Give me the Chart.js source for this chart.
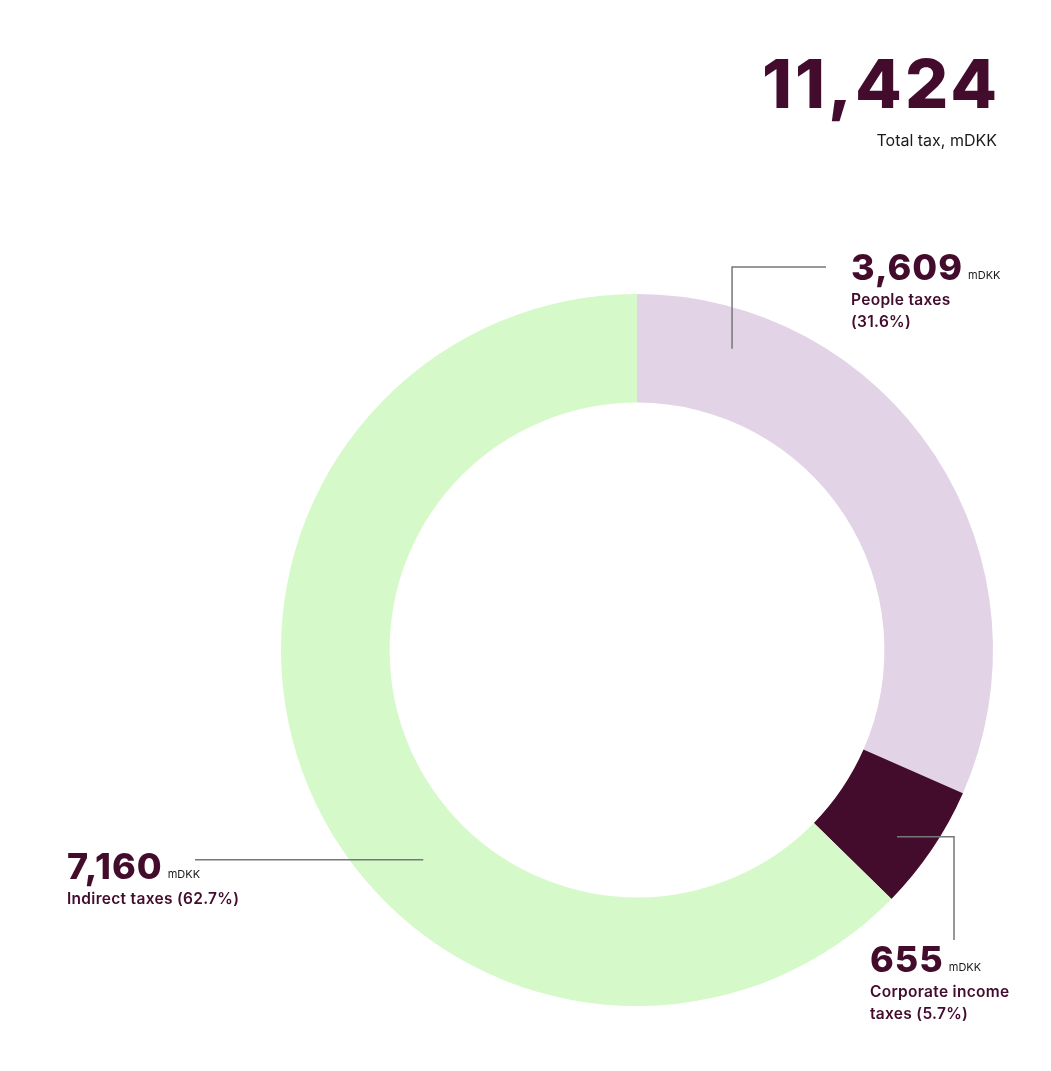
<!DOCTYPE html>
<html>
<head>
<meta charset="utf-8">
<script src="https://cdn.jsdelivr.net/npm/chart.js@4.4.0/dist/chart.umd.min.js"></script>
<style>
  html, body { margin: 0; padding: 0; background: #ffffff; }
  #wrap { position: relative; width: 1051px; height: 1071px; }
</style>
</head>
<body>
<div id="wrap"><canvas id="taxChart"></canvas></div>
<script>
// Tax split, mDKK
const categories = ['People taxes', 'Corporate income taxes', 'Indirect taxes'];
const values = [3609, 655, 7160];
const shares = ['31.6%', '5.7%', '62.7%'];
const totalTax = '11,424';
const valueLabels = ['3,609', '655', '7,160'];
const colors = ['#E2D3E7', '#430C2C', '#D5F9C8'];

const DARK = '#430C2C';
const LINE = '#777777';
const FONT = "Inter, 'Liberation Sans', sans-serif";

// Callout layout: where on the slice the leader starts (angle / radius fraction),
// the elbow, and where the text block sits.
const callouts = [
    { angleFrac: 0.154, radFrac: 0.63, path: 'up-right', elbowY: 267, endX: 826,
      textX: 851, numY: 280, lines: ['People taxes', '(' + shares[0] + ')'] },
    { angleFrac: 0.58, radFrac: 0.67, path: 'right-down', elbowX: 954, endY: 940,
      textX: 870, numY: 972, lines: ['Corporate income', 'taxes (' + shares[1] + ')'] },
    { angleFrac: 0.404, radFrac: 0.48, path: 'left', endX: 195,
      textX: 67, numY: 879, lines: ['Indirect taxes (' + shares[2] + ')'] }
];

const calloutPlugin = {
    id: 'callouts',
    afterDraw(chart) {
        const ctx = chart.ctx;
        const meta = chart.getDatasetMeta(0);
        ctx.save();

        // headline total
        ctx.fillStyle = DARK;
        ctx.textAlign = 'right';
        ctx.textBaseline = 'alphabetic';
        ctx.letterSpacing = '3px';
        ctx.font = "800 68px " + FONT;
        ctx.fillText(totalTax, 1000, 108);
        ctx.letterSpacing = '0px';
        ctx.fillStyle = '#1a1a1a';
        ctx.font = "400 16px " + FONT;
        ctx.fillText('Total tax, mDKK', 997, 146);

        callouts.forEach((c, i) => {
            const arc = meta.data[i];
            const a = arc.startAngle + (arc.endAngle - arc.startAngle) * c.angleFrac;
            const r = arc.innerRadius + (arc.outerRadius - arc.innerRadius) * c.radFrac;
            const ax = arc.x + Math.cos(a) * r;
            const ay = arc.y + Math.sin(a) * r;

            ctx.strokeStyle = LINE;
            ctx.lineWidth = 1.5;
            ctx.beginPath();
            ctx.moveTo(ax, ay);
            if (c.path === 'up-right') {
                ctx.lineTo(ax, c.elbowY);
                ctx.lineTo(c.endX, c.elbowY);
            } else if (c.path === 'right-down') {
                ctx.lineTo(c.elbowX, ay);
                ctx.lineTo(c.elbowX, c.endY);
            } else {
                ctx.lineTo(c.endX, ay);
            }
            ctx.stroke();

            ctx.textAlign = 'left';
            ctx.fillStyle = DARK;
            ctx.letterSpacing = '1px';
            ctx.font = "800 36px " + FONT;
            ctx.fillText(valueLabels[i], c.textX, c.numY);
            const w = ctx.measureText(valueLabels[i]).width;
            ctx.letterSpacing = '0px';
            ctx.fillStyle = '#1a1a1a';
            ctx.font = "400 11px " + FONT;
            ctx.fillText('mDKK', c.textX + w + 5, c.numY - 1);

            ctx.fillStyle = DARK;
            ctx.letterSpacing = '0.3px';
            ctx.font = "600 15.5px " + FONT;
            c.lines.forEach((t, k) => {
                ctx.fillText(t, c.textX, c.numY + 25 + k * 22);
            });
            ctx.letterSpacing = '0px';
        });
        ctx.restore();
    }
};

new Chart(document.getElementById('taxChart'), {
    type: 'doughnut',
    data: {
        labels: categories,
        datasets: [{
            data: values,
            backgroundColor: colors,
            borderWidth: 0,
            hoverOffset: 0
        }]
    },
    options: {
        responsive: true,
        maintainAspectRatio: false,
        animation: false,
        cutout: '69.5%',
        layout: { padding: { left: 281, right: 58, top: 294, bottom: 65 } },
        plugins: {
            legend: { display: false },
            tooltip: { enabled: false }
        }
    },
    plugins: [calloutPlugin]
});
</script>
</body>
</html>
